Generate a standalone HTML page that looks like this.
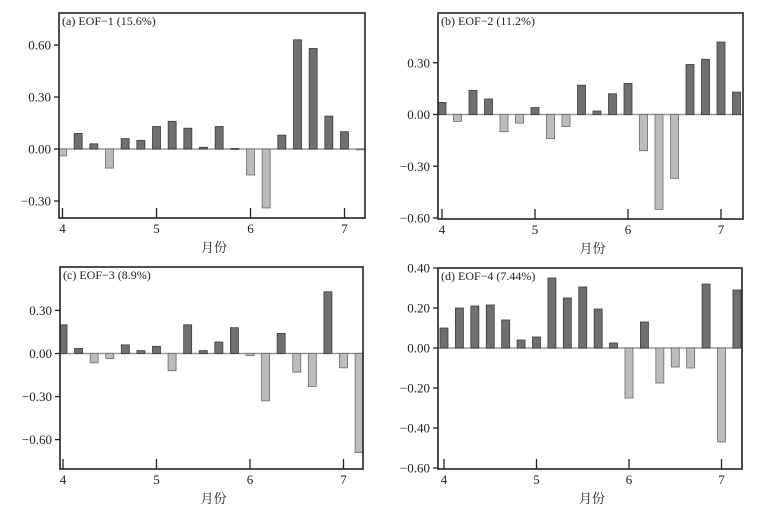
<!DOCTYPE html>
<html><head><meta charset="utf-8"><style>
html,body{margin:0;padding:0;background:#fff;}
svg text{font-family:"Liberation Serif","Noto Serif CJK SC",serif;fill:#222;}
</style></head><body>
<svg id="c" width="780" height="507" viewBox="0 0 780 507" xmlns="http://www.w3.org/2000/svg"></svg>
<script>
const monthTicks = [4, 5, 6, 7];
const eof1Values = [-0.04, 0.09, 0.03, -0.11, 0.06, 0.05, 0.13, 0.16, 0.12, 0.01, 0.13, 0.003, -0.15, -0.34, 0.08, 0.63, 0.58, 0.19, 0.10, -0.005];
const eof2Values = [0.07, -0.04, 0.14, 0.09, -0.10, -0.05, 0.04, -0.14, -0.07, 0.17, 0.02, 0.12, 0.18, -0.21, -0.55, -0.37, 0.29, 0.32, 0.42, 0.13];
const eof3Values = [0.20, 0.035, -0.065, -0.035, 0.06, 0.02, 0.05, -0.12, 0.20, 0.02, 0.08, 0.18, -0.015, -0.33, 0.14, -0.13, -0.23, 0.43, -0.10, -0.69];
const eof4Values = [0.10, 0.20, 0.21, 0.215, 0.14, 0.04, 0.055, 0.35, 0.25, 0.305, 0.195, 0.025, -0.25, 0.13, -0.175, -0.095, -0.10, 0.32, -0.47, 0.29];
const yTicks1 = [0.60, 0.30, 0.00, -0.30];
const yTicks2 = [0.30, 0.00, -0.30, -0.60];
const yTicks3 = [0.30, 0.00, -0.30, -0.60];
const yTicks4 = [0.40, 0.20, 0.00, -0.20, -0.40, -0.60];
const titles = ["(a) EOF\u22121 (15.6%)", "(b) EOF\u22122 (11.2%)", "(c) EOF\u22123 (8.9%)", "(d) EOF\u22124 (7.44%)"];

const NS = "http://www.w3.org/2000/svg";
const svg = document.getElementById('c');
function mk(tag, attrs, parent) {
  const e = document.createElementNS(NS, tag);
  for (const k in attrs) e.setAttribute(k, attrs[k]);
  (parent || svg).appendChild(e);
  return e;
}
// layout: frame, month-4 x, px per month, y zero px, px per unit
const panels = [
  {v: eof1Values, t: yTicks1, title: titles[0], L: 59, R: 365, T: 13, B: 218, x4: 62.5, pm: 94, y0: 149, ppu: 173.3, id: 'a'},
  {v: eof2Values, t: yTicks2, title: titles[1], L: 438, R: 743, T: 13, B: 219, x4: 442, pm: 93, y0: 114.5, ppu: 172.5, id: 'b'},
  {v: eof3Values, t: yTicks3, title: titles[2], L: 60, R: 363, T: 267, B: 469, x4: 63, pm: 93.5, y0: 353.5, ppu: 143.5, id: 'c'},
  {v: eof4Values, t: yTicks4, title: titles[3], L: 438, R: 742, T: 268, B: 469, x4: 444, pm: 92.5, y0: 348, ppu: 200, id: 'd'}
];
panels.forEach(p => {
  const g = mk('g', {});
  
  
  const xs = i => p.x4 + i * p.pm / 6;
  const ys = v => p.y0 - v * p.ppu;
  const clipId = 'clip' + p.id;
  const cp = mk('clipPath', {id: clipId}, g);
  mk('rect', {x: p.L, y: p.T, width: p.R - p.L, height: p.B - p.T}, cp);
  const bg = mk('g', {'clip-path': 'url(#' + clipId + ')'}, g);
  // zero line
  const zl = mk('line', {x1: p.L, x2: p.R, y1: ys(0), y2: ys(0), stroke: '#9a9a9a', 'stroke-width': 1.5}, bg);
  
  
  p.v.forEach((v, i) => {
    const y = Math.min(ys(0), ys(v));
    const h = Math.max(Math.abs(ys(v) - ys(0)), 0.8);
    const r = mk('rect', {x: xs(i) - 4, y: y, width: 8, height: h,
      fill: v >= 0 ? '#707070' : '#bcbcbc', stroke: v >= 0 ? '#3a3a3a' : '#6a6a6a', 'stroke-width': 0.8}, bg);
    
    
  });
  // frame
  const fr = mk('rect', {x: p.L, y: p.T, width: p.R - p.L, height: p.B - p.T, fill: 'none', stroke: '#222', 'stroke-width': 1.6}, g);
  
  
  // y ticks
  p.t.forEach(t => {
    mk('line', {x1: p.L - 5, x2: p.L, y1: ys(t), y2: ys(t), stroke: '#222', 'stroke-width': 1.3}, g);
    const tx = mk('text', {x: p.L - 8, y: ys(t) + 4.5, 'text-anchor': 'end', 'font-size': 13}, g);
    tx.textContent = (t < 0 ? '\u2212' : '') + Math.abs(t).toFixed(2);
    
    
  });
  // x ticks
  monthTicks.forEach((m, k) => {
    const x = p.x4 + k * p.pm;
    mk('line', {x1: x, x2: x, y1: p.B - 10, y2: p.B, stroke: '#222', 'stroke-width': 1.3}, g);
    const tx = mk('text', {x: x, y: p.B + 15, 'text-anchor': 'middle', 'font-size': 13}, g);
    tx.textContent = String(m);
    
    
  });
  const xl = mk('text', {x: (p.L + p.R) / 2 + 2, y: p.B + 34, 'text-anchor': 'middle', 'font-size': 13}, g);
  xl.textContent = '月份';
  
  
  const tt = mk('text', {x: p.L + 3, y: p.T + 12, 'font-size': 12}, g);
  tt.textContent = p.title;
  
  
});
</script>
</body></html>
